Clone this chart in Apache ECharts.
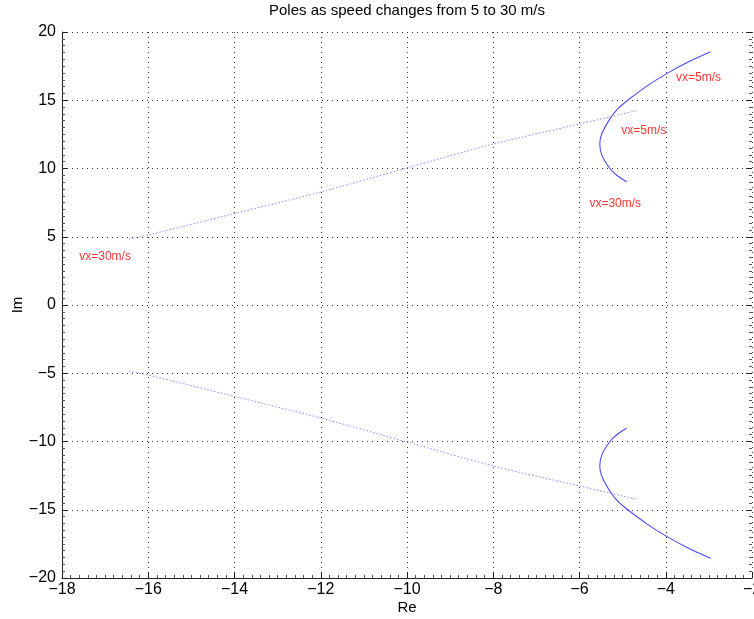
<!DOCTYPE html>
<html>
<head>
<meta charset="utf-8">
<script src="https://cdn.jsdelivr.net/npm/echarts@6/dist/echarts.min.js"></script>
<style>html,body{margin:0;padding:0;background:#fff}#c{width:754px;height:619px}</style>
</head>
<body>
<div id="c"></div>
<script>
// Dotted branch (upper half; lower half is its conjugate)
var dottedRe = [-16.45, -16, -14, -12, -10, -8, -6, -4.67];
var dottedIm = [4.83, 5.13, 6.70, 8.28, 10.04, 11.79, 13.26, 14.24];
// Solid branch (upper half; lower half is its conjugate), from vx=5 to vx=30
var solidRe = [-2.96, -3.47, -3.97, -4.43, -4.88, -5.12, -5.29, -5.48, -5.53, -5.48, -5.29, -5.12, -4.91];
var solidIm = [18.56, 17.82, 16.97, 16.05, 15.00, 14.35, 13.66, 12.56, 11.82, 10.96, 9.98, 9.47, 9.03];
// Text annotations
var noteText = ['vx=5m/s', 'vx=5m/s', 'vx=30m/s', 'vx=30m/s'];
var noteRe = [-3.76, -5.03, -5.77, -17.6];
var noteIm = [16.67, 12.8, 7.41, 3.54];
var xTicks = [-18, -16, -14, -12, -10, -8, -6, -4, -2];
var yTicks = [-20, -15, -10, -5, 0, 5, 10, 15, 20];

function pairs(xs, ys, sign) {
  return xs.map(function (x, i) { return [x, sign * ys[i]]; });
}
var FONT = 'Liberation Sans, Arial, sans-serif';
var minusFmt = function (v) { return String(v).replace('-', '\u2212'); };

var chart = echarts.init(document.getElementById('c'), null, {renderer: 'canvas'});
var axisCommon = {
  axisLine: {show: true, onZero: false, lineStyle: {color: '#222', width: 1}},
  axisTick: {show: true, inside: true, length: 6, lineStyle: {color: '#222'}},
  minorTick: {show: true, splitNumber: 10, length: 3, lineStyle: {color: '#555'}},
  splitLine: {show: true, lineStyle: {color: '#333', width: 1, type: [1, 4]}},
  axisLabel: {color: '#000', fontSize: 16, fontFamily: FONT, formatter: minusFmt}
};
chart.setOption({
  animation: false,
  backgroundColor: '#fff',
  title: {
    text: 'Poles as speed changes from 5 to 30 m/s',
    left: 407, top: 3, padding: 0, textAlign: 'center',
    textStyle: {fontSize: 15, fontWeight: 'normal', color: '#000', fontFamily: FONT}
  },
  grid: {left: 62, right: 2, top: 32, bottom: 41, containLabel: false, outerBoundsMode: 'none'},
  xAxis: Object.assign({}, axisCommon, {
    type: 'value', min: xTicks[0], max: xTicks[xTicks.length - 1], interval: 2,
    name: 'Re', nameLocation: 'middle', nameGap: 22, nameMoveOverlap: false,
    nameTextStyle: {fontSize: 15, color: '#000', fontFamily: FONT},
    axisLabel: Object.assign({}, axisCommon.axisLabel, {margin: 4})
  }),
  yAxis: [Object.assign({}, axisCommon, {
    type: 'value', min: yTicks[0], max: yTicks[yTicks.length - 1], interval: 5,
    name: 'Im', nameLocation: 'middle', nameGap: 37, nameMoveOverlap: false,
    nameTextStyle: {fontSize: 15, color: '#000', fontFamily: FONT},
    axisLabel: Object.assign({}, axisCommon.axisLabel, {margin: 6})
  }), {
    type: 'value', position: 'right', min: yTicks[0], max: yTicks[yTicks.length - 1], interval: 5,
    axisLine: {show: false, onZero: false},
    axisTick: {show: true, inside: true, length: 6, lineStyle: {color: '#222'}},
    minorTick: {show: true, splitNumber: 10, length: 3, lineStyle: {color: '#555'}},
    splitLine: {show: false},
    axisLabel: {show: false}
  }],
  series: [
    {type: 'line', data: pairs(dottedRe, dottedIm, 1), showSymbol: false, symbol: 'none', smooth: 0.3,
     lineStyle: {color: '#8585ff', width: 1, type: [1.5, 2]}},
    {type: 'line', data: pairs(dottedRe, dottedIm, -1), showSymbol: false, symbol: 'none', smooth: 0.3,
     lineStyle: {color: '#8585ff', width: 1, type: [1.5, 2]}},
    {type: 'line', data: pairs(solidRe, solidIm, 1), showSymbol: false, symbol: 'none', smooth: 0.4,
     lineStyle: {color: '#4a4aff', width: 1.1}},
    {type: 'line', data: pairs(solidRe, solidIm, -1), showSymbol: false, symbol: 'none', smooth: 0.4,
     lineStyle: {color: '#4a4aff', width: 1.1}},
    {type: 'scatter', symbolSize: 0, silent: true,
     data: noteText.map(function (t, i) { return {value: [noteRe[i], noteIm[i]], name: t}; }),
     label: {show: true, position: 'right', distance: 0, formatter: '{b}',
             color: '#ff0000', fontSize: 12, fontFamily: FONT, align: 'left', verticalAlign: 'middle'}}
  ]
});
</script>
</body>
</html>
